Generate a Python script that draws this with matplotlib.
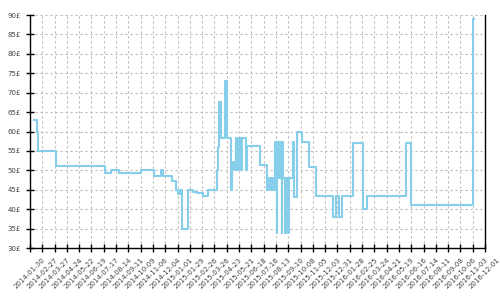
import pandas as pd
import matplotlib
matplotlib.use("Agg")
import matplotlib.pyplot as plt
import matplotlib.dates as mdates
from matplotlib.ticker import FuncFormatter, MultipleLocator

# --- price history (step changes) ---
change_dates = [
    "2014-02-07", "2014-02-15", "2014-02-17", "2014-03-31", "2014-07-19",
    "2014-08-02", "2014-08-20", "2014-10-10", "2014-11-08", "2014-11-24",
    "2014-11-29", "2014-12-19", "2014-12-28", "2015-01-02", "2015-01-07",
    "2015-01-12", "2015-01-24", "2015-02-04", "2015-02-14", "2015-02-27",
    "2015-03-12", "2015-04-01", "2015-04-03", "2015-04-05", "2015-04-09",
    "2015-04-20", "2015-04-23", "2015-05-03", "2015-05-06", "2015-05-08",
    "2015-05-11", "2015-05-15", "2015-05-19", "2015-05-21", "2015-05-25",
    "2015-05-28", "2015-06-06", "2015-06-09", "2015-07-08", "2015-07-24",
    "2015-07-28", "2015-08-02", "2015-08-04", "2015-08-07", "2015-08-10",
    "2015-08-11", "2015-08-14", "2015-08-15", "2015-08-16", "2015-08-19",
    "2015-08-20", "2015-08-23", "2015-08-24", "2015-08-26", "2015-08-27",
    "2015-08-30", "2015-09-03", "2015-09-04", "2015-09-10", "2015-09-11",
    "2015-09-21", "2015-09-23", "2015-09-29", "2015-10-11", "2015-10-28",
    "2015-11-12", "2015-12-20", "2015-12-28", "2016-01-04", "2016-01-11",
    "2016-02-04", "2016-02-27", "2016-03-07", "2016-06-03", "2016-06-16",
    "2016-11-03", "2016-11-07",
]
prices = [
    63.0, 60.0, 55.0, 51.0, 49.2,
    50.0, 49.2, 50.0, 48.6, 50.0,
    48.5, 47.3, 45.0, 44.0, 45.0,
    35.0, 45.0, 44.4, 44.1, 43.4,
    45.0, 50.0, 56.0, 67.7, 58.2,
    73.1, 58.2, 45.0, 50.0, 52.2,
    50.0, 58.2, 50.0, 58.2, 50.0,
    58.2, 50.0, 56.3, 51.5, 45.0,
    48.0, 45.0, 48.0, 45.0, 48.0,
    57.2, 48.0, 33.8, 57.2, 48.0,
    57.2, 48.0, 57.2, 33.8, 57.2,
    48.0, 33.8, 48.0, 33.8, 48.0,
    57.2, 43.2, 60.0, 57.2, 50.9,
    43.4, 38.0, 43.4, 38.0, 43.4,
    57.1, 40.0, 43.5, 57.1, 41.1,
    89.0, 89.0,
]

x_start, x_end = "2014-01-30", "2016-12-01"
y_min, y_max = 30, 90

fig = plt.figure(figsize=(5, 3), dpi=100)
ax = fig.add_axes([0.06, 0.1733, 0.91, 0.7767])

ax.plot(pd.to_datetime(change_dates), prices, drawstyle="steps-post",
        color="#87CEEB", linewidth=1.5)

ax.set_xlim(pd.Timestamp(x_start), pd.Timestamp(x_end))
ax.set_ylim(y_min, y_max)

ax.set_xticks(pd.date_range(x_start, x_end, freq="28D"))
ax.xaxis.set_major_formatter(mdates.DateFormatter("%Y-%m-%d"))
ax.yaxis.set_major_locator(MultipleLocator(5))
ax.yaxis.set_major_formatter(FuncFormatter(lambda v, _: f"{v:.0f}£"))

ax.grid(True, color="#bbbbbb", linestyle=(0, (2, 2.5)), linewidth=0.8)
ax.set_axisbelow(True)

ax.spines["top"].set_visible(False)
for side in ("left", "bottom", "right"):
    ax.spines[side].set_color("black")
    ax.spines[side].set_linewidth(1)

ax.tick_params(direction="inout", length=6, width=1, color="black",
               labelsize=5, labelcolor="#444444")
# labels are centred under their ticks in the original
plt.setp(ax.get_xticklabels(), rotation=45, ha="center")

fig.savefig("out.png", dpi=100)
